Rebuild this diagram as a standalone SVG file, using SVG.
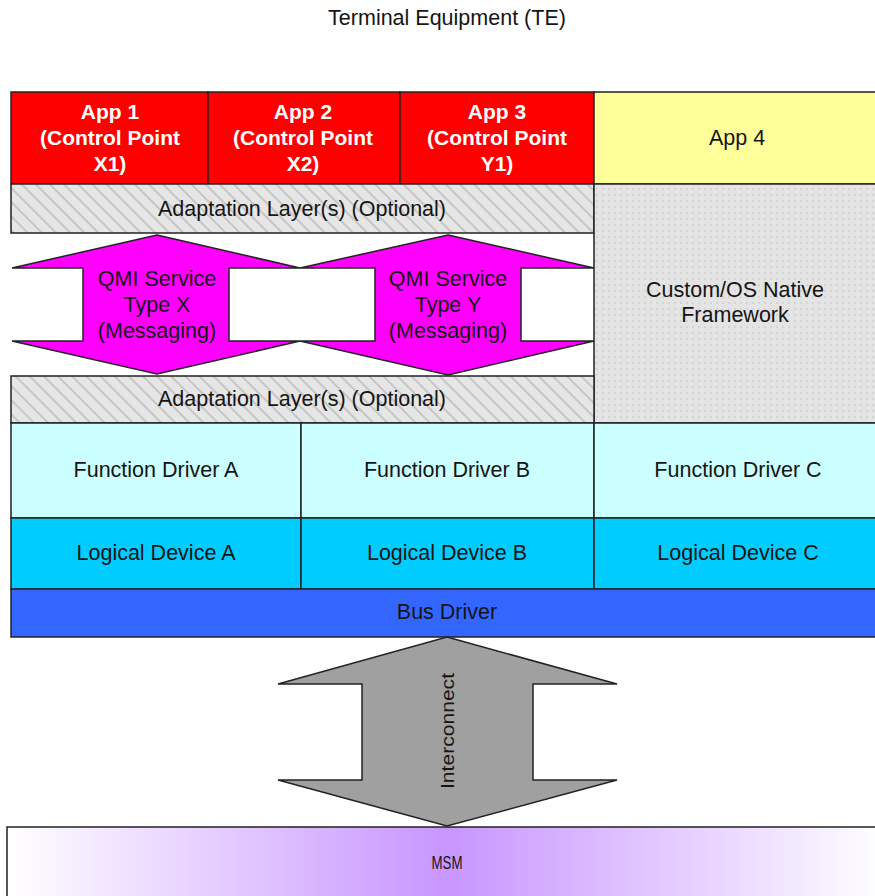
<svg xmlns="http://www.w3.org/2000/svg" width="875" height="896" viewBox="0 0 875 896">
<defs>
<pattern id="hatch" width="10" height="10" patternUnits="userSpaceOnUse" patternTransform="rotate(-45)">
<rect width="10" height="10" fill="#E6E6E6"/>
<line x1="5" y1="0" x2="5" y2="10" stroke="#A6A6A6" stroke-width="1"/>
</pattern>
<pattern id="dots" width="6" height="6" patternUnits="userSpaceOnUse">
<rect width="6" height="6" fill="#E4E4E4"/>
<circle cx="3" cy="3" r="0.7" fill="#B8B8B8"/>
</pattern>
<linearGradient id="msmGrad" x1="0" y1="0" x2="1" y2="0">
<stop offset="0" stop-color="#FFFFFF"/>
<stop offset="0.5" stop-color="#C896FF"/>
<stop offset="1" stop-color="#FFFFFF"/>
</linearGradient>
<style>
.box{stroke:#222;stroke-width:1.5}
.t{font-family:"Liberation Sans",Arial,sans-serif;font-size:21.5px;fill:#151515;text-anchor:middle}
.w{font-family:"Liberation Sans",Arial,sans-serif;font-size:21px;font-weight:bold;fill:#FFFFFF;text-anchor:middle}
</style>
</defs>
<rect width="875" height="896" fill="#FFFFFF"/>
<text class="t" x="447" y="25">Terminal Equipment (TE)</text>

<g id="app1"><rect class="box" x="11" y="92" width="197" height="92" fill="#FF0000"/>
<text class="w" x="110" y="119">App 1</text><text class="w" x="110" y="145">(Control Point</text><text class="w" x="110" y="171">X1)</text></g>
<g id="app2"><rect class="box" x="208" y="92" width="192" height="92" fill="#FF0000"/>
<text class="w" x="303" y="119">App 2</text><text class="w" x="303" y="145">(Control Point</text><text class="w" x="303" y="171">X2)</text></g>
<g id="app3"><rect class="box" x="400" y="92" width="194" height="92" fill="#FF0000"/>
<text class="w" x="497" y="119">App 3</text><text class="w" x="497" y="145">(Control Point</text><text class="w" x="497" y="171">Y1)</text></g>
<g id="app4"><rect class="box" x="594" y="92" width="290" height="92" fill="#FFFF99"/>
<text class="t" x="737" y="145">App 4</text></g>

<g id="adaptation1"><rect class="box" x="11" y="184" width="583" height="49" fill="url(#hatch)"/>
<text class="t" x="302" y="216">Adaptation Layer(s) (Optional)</text></g>

<g id="custom-os"><rect class="box" x="594" y="184" width="290" height="239" fill="url(#dots)"/>
<text class="t" x="735" y="297">Custom/OS Native</text><text class="t" x="735" y="322">Framework</text></g>

<g id="qmi-x"><path class="box" d="M157,235 L300,268 L229,268 L229,341 L300,341 L157,374 L12,341 L83,341 L83,268 L12,268 Z" fill="#FF00FF"/>
<text class="t" x="157" y="286">QMI Service</text><text class="t" x="157" y="312">Type X</text><text class="t" x="157" y="338">(Messaging)</text></g>
<g id="qmi-y"><path class="box" d="M448,235 L594,268 L521,268 L521,341 L594,341 L448,375 L300,341 L375,341 L375,268 L300,268 Z" fill="#FF00FF"/>
<text class="t" x="448" y="286">QMI Service</text><text class="t" x="448" y="312">Type Y</text><text class="t" x="448" y="338">(Messaging)</text></g>

<g id="adaptation2"><rect class="box" x="11" y="376" width="583" height="47" fill="url(#hatch)"/>
<text class="t" x="302" y="406">Adaptation Layer(s) (Optional)</text></g>

<g id="fd-a"><rect class="box" x="11" y="423" width="290" height="95" fill="#CCFFFF"/><text class="t" x="156" y="477">Function Driver A</text></g>
<g id="fd-b"><rect class="box" x="301" y="423" width="293" height="95" fill="#CCFFFF"/><text class="t" x="447" y="477">Function Driver B</text></g>
<g id="fd-c"><rect class="box" x="594" y="423" width="290" height="95" fill="#CCFFFF"/><text class="t" x="738" y="477">Function Driver C</text></g>

<g id="ld-a"><rect class="box" x="11" y="518" width="290" height="71" fill="#00CCFF"/><text class="t" x="156" y="560">Logical Device A</text></g>
<g id="ld-b"><rect class="box" x="301" y="518" width="293" height="71" fill="#00CCFF"/><text class="t" x="447" y="560">Logical Device B</text></g>
<g id="ld-c"><rect class="box" x="594" y="518" width="290" height="71" fill="#00CCFF"/><text class="t" x="738" y="560">Logical Device C</text></g>

<g id="bus-driver"><rect class="box" x="11" y="589" width="873" height="48" fill="#3366FF"/><text class="t" x="447" y="619">Bus Driver</text></g>

<g id="connectors">
<path class="box" d="M447,637 L617,684 L533,684 L533,780 L617,780 L447,826 L278,780 L362,780 L362,684 L278,684 Z" fill="#A0A0A0"/>
<text class="t" transform="translate(454,731) rotate(-90)" textLength="116" lengthAdjust="spacingAndGlyphs" style="font-size:18px">Interconnect</text>
</g>

<g id="msm"><rect class="box" x="7" y="827" width="880" height="80" fill="url(#msmGrad)"/>
<text class="t" x="447" y="869" style="font-size:19px" textLength="31" lengthAdjust="spacingAndGlyphs">MSM</text></g>
</svg>
